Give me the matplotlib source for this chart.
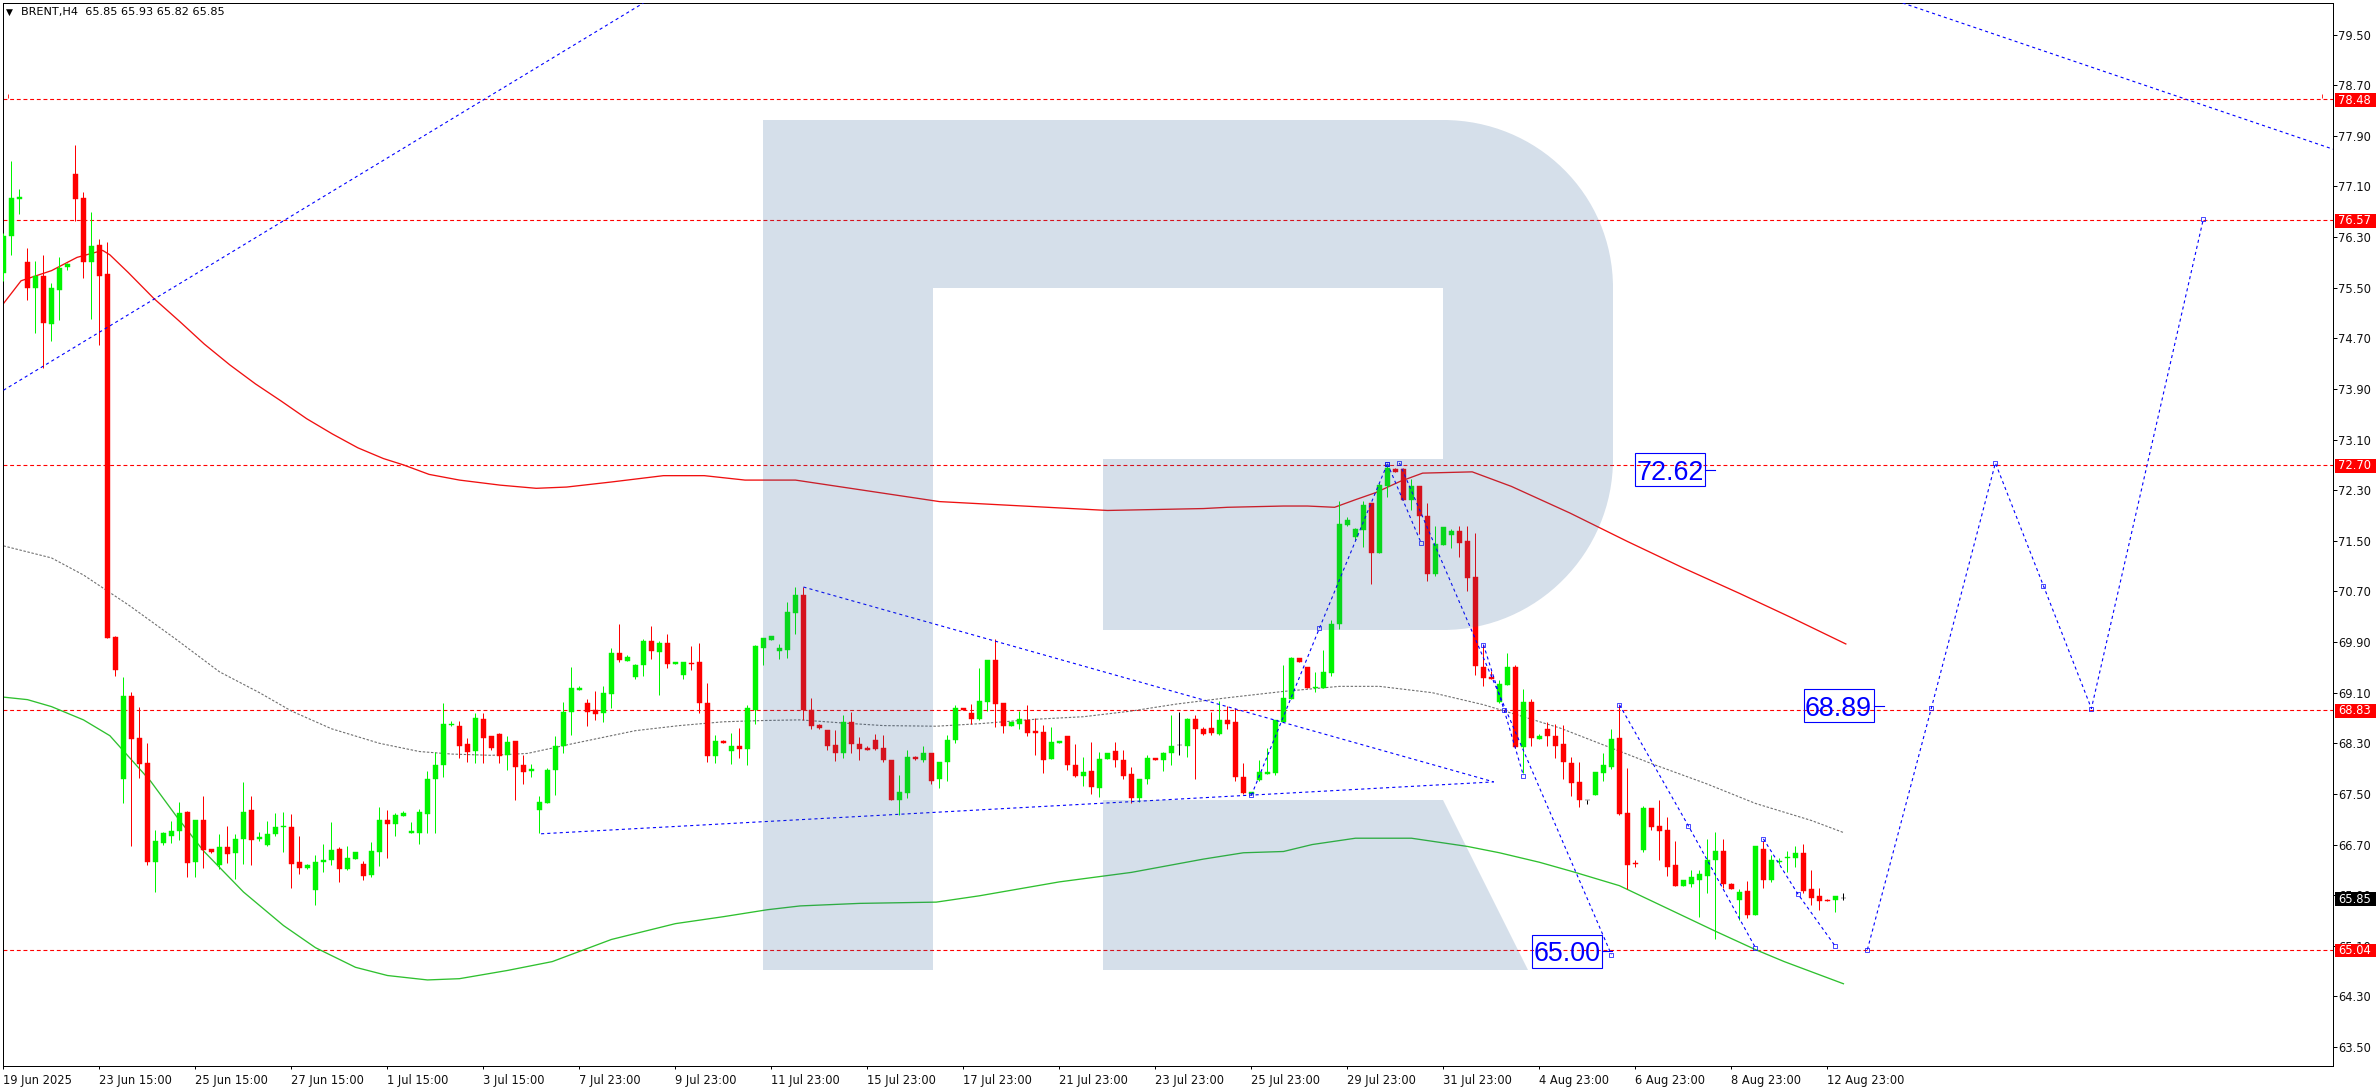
import matplotlib
matplotlib.use("Agg")
import matplotlib.pyplot as plt
import numpy as np
from matplotlib.path import Path
from matplotlib.patches import PathPatch, Rectangle
from matplotlib.transforms import IdentityTransform, blended_transform_factory

W, H = 2376, 1090

# H4 candles, one row per 10 bars
opens = [
    75.74, 76.32, 76.90, 75.91, 75.50, 75.69, 74.93, 75.47, 75.82, 77.30,
    76.92, 75.91, 76.18, 75.71, 69.98, 67.73, 69.04, 68.39, 67.99, 66.43,
    66.73, 66.84, 66.92, 67.22, 66.43, 67.08, 66.63, 66.38, 66.66, 66.57,
    66.79, 67.24, 66.79, 66.70, 66.86, 66.97, 66.98, 66.43, 66.33, 65.98,
    66.43, 66.46, 66.63, 66.32, 66.47, 66.40, 66.22, 66.59, 67.08, 67.03,
    67.15, 66.88, 66.88, 67.19, 67.73, 67.96, 68.59, 68.58, 68.29, 68.18,
    68.69, 68.41, 68.45, 68.12, 68.34, 67.95, 67.87, 67.25, 67.36, 67.88,
    68.25, 68.79, 69.15, 68.94, 68.83, 68.78, 69.08, 69.73, 69.60, 69.35,
    69.53, 69.92, 69.75, 69.89, 69.56, 69.38, 69.57, 69.58, 68.94, 68.10,
    68.34, 68.18, 68.26, 68.21, 68.82, 69.81, 69.94, 69.76, 69.78, 70.36,
    70.64, 68.82, 68.59, 68.51, 68.28, 68.15, 68.64, 68.29, 68.23, 68.36,
    68.23, 68.04, 67.41, 67.52, 68.09, 68.03, 68.14, 67.73, 68.01, 68.36,
    68.86, 68.78, 68.69, 68.95, 69.62, 68.93, 68.58, 68.61, 68.67, 68.50,
    68.48, 68.05, 68.31, 68.41, 67.95, 67.78, 67.87, 67.60, 68.05, 68.18,
    68.04, 67.82, 67.44, 67.73, 68.07, 68.03, 68.14, 68.27, 68.25, 68.69,
    68.53, 68.54, 68.45, 68.67, 68.64, 67.77, 67.50, 67.72, 67.82, 67.83,
    68.64, 69.00, 69.65, 69.51, 69.18, 69.18, 69.41, 70.19, 71.75, 71.56,
    71.67, 72.09, 71.30, 72.37, 72.63, 72.63, 72.14, 72.37, 71.90, 70.97,
    71.44, 71.60, 71.66, 71.50, 70.93, 69.50, 69.35, 68.96, 69.22, 69.51,
    68.24, 68.96, 68.37, 68.52, 68.42, 68.29, 67.99, 67.69, 67.41, 67.49,
    67.83, 67.93, 68.39, 67.20, 66.41, 66.62, 67.27, 67.00, 66.93, 66.37,
    66.05, 66.08, 66.14, 66.21, 66.45, 66.60, 66.08, 65.83, 65.97, 65.58,
    66.63, 66.14, 66.42, 66.48, 66.48, 66.56, 65.99, 65.88, 65.83, 65.83,
    65.85,
]
highs = [
    76.36, 77.50, 77.06, 76.13, 75.93, 76.01, 75.57, 75.98, 75.89, 77.75,
    77.02, 76.70, 76.27, 76.23, 70.00, 69.35, 69.11, 68.88, 68.31, 66.93,
    66.90, 67.07, 67.38, 67.23, 67.09, 67.46, 66.63, 66.86, 67.00, 66.87,
    67.69, 67.47, 66.90, 67.07, 67.20, 67.21, 67.19, 66.84, 66.40, 66.54,
    66.71, 67.06, 66.66, 66.68, 66.59, 66.44, 66.74, 67.30, 67.25, 67.20,
    67.23, 67.05, 67.26, 67.87, 68.16, 68.93, 68.66, 68.66, 68.39, 68.78,
    68.78, 68.42, 68.46, 68.42, 68.34, 68.12, 67.97, 67.47, 67.91, 68.41,
    68.96, 69.51, 69.21, 69.00, 69.13, 69.20, 69.80, 70.18, 69.70, 69.56,
    69.95, 70.16, 69.91, 70.03, 69.59, 69.59, 69.83, 69.89, 69.26, 68.43,
    68.35, 68.47, 68.54, 68.90, 69.85, 69.97, 70.00, 69.87, 70.53, 70.77,
    70.77, 69.02, 68.60, 68.51, 68.51, 68.75, 68.80, 68.40, 68.25, 68.45,
    68.43, 68.04, 67.80, 68.20, 68.10, 68.26, 68.14, 68.01, 68.43, 68.91,
    68.86, 68.92, 69.49, 69.62, 69.95, 68.93, 68.64, 68.81, 68.91, 68.70,
    68.59, 68.56, 68.34, 68.42, 68.29, 68.09, 68.32, 68.17, 68.15, 68.32,
    68.20, 67.92, 67.74, 68.12, 68.07, 68.17, 68.75, 68.80, 68.70, 68.75,
    68.55, 68.80, 68.97, 68.89, 68.86, 67.99, 67.53, 68.03, 68.22, 68.67,
    69.53, 69.66, 69.65, 69.51, 69.43, 69.77, 70.25, 72.13, 71.88, 71.70,
    72.13, 72.09, 72.41, 72.70, 72.65, 72.65, 72.47, 72.37, 72.09, 71.73,
    71.72, 71.68, 71.74, 71.74, 71.62, 69.86, 69.45, 69.30, 69.73, 69.54,
    69.16, 69.00, 68.45, 68.64, 68.61, 68.59, 68.09, 68.01, 67.41, 67.85,
    68.15, 68.53, 68.91, 67.91, 66.45, 67.31, 67.27, 67.41, 67.14, 66.76,
    66.14, 66.29, 66.30, 66.78, 66.90, 66.78, 66.10, 66.00, 66.13, 66.68,
    66.75, 66.54, 66.48, 66.60, 66.68, 66.71, 66.30, 66.02, 65.84, 65.88,
    65.93,
]
lows = [
    75.60, 76.02, 76.67, 75.31, 74.79, 74.23, 74.66, 74.99, 75.78, 76.56,
    75.66, 75.01, 74.59, 69.97, 69.37, 67.36, 66.67, 67.75, 66.37, 65.95,
    66.70, 66.73, 66.77, 66.19, 66.18, 66.33, 66.56, 66.31, 66.41, 66.16,
    66.40, 66.38, 66.76, 66.67, 66.84, 66.58, 66.02, 66.24, 66.32, 65.75,
    66.26, 66.38, 66.11, 66.30, 66.47, 66.14, 66.19, 66.36, 66.48, 66.84,
    67.15, 66.88, 66.71, 66.88, 66.88, 67.76, 68.57, 68.06, 68.01, 67.99,
    67.99, 68.20, 67.99, 67.88, 67.41, 67.65, 67.76, 66.88, 67.35, 67.48,
    68.14, 68.43, 69.14, 68.58, 68.67, 68.64, 68.86, 69.59, 69.60, 69.31,
    69.37, 69.64, 69.07, 69.49, 69.56, 69.31, 69.46, 68.78, 68.01, 67.99,
    68.31, 67.98, 68.06, 67.96, 68.61, 69.53, 69.94, 69.64, 69.65, 70.03,
    68.67, 68.53, 68.52, 68.20, 68.02, 68.06, 68.14, 68.03, 68.19, 68.19,
    68.01, 67.41, 67.16, 67.43, 68.03, 68.00, 67.65, 67.60, 67.70, 68.31,
    68.82, 68.61, 68.67, 68.81, 68.56, 68.46, 68.58, 68.53, 68.41, 68.12,
    67.83, 68.05, 68.31, 67.88, 67.77, 67.62, 67.50, 67.45, 68.05, 67.93,
    67.73, 67.35, 67.37, 67.65, 68.03, 67.87, 67.95, 68.12, 68.09, 67.74,
    68.43, 68.43, 68.43, 68.53, 67.71, 67.50, 67.48, 67.70, 67.82, 67.80,
    68.64, 69.00, 69.58, 69.18, 69.11, 69.18, 69.37, 70.11, 71.74, 71.52,
    71.41, 70.81, 71.30, 72.20, 72.58, 72.14, 71.99, 71.61, 70.86, 70.94,
    71.44, 71.38, 71.24, 70.71, 69.38, 69.20, 69.31, 68.94, 69.22, 68.23,
    67.83, 68.25, 68.37, 68.26, 68.06, 67.73, 67.47, 67.30, 67.34, 67.49,
    67.71, 67.90, 67.16, 65.99, 66.34, 66.58, 66.93, 66.46, 66.21, 66.04,
    66.05, 66.03, 65.56, 65.94, 65.21, 66.02, 65.99, 65.50, 65.54, 65.58,
    66.02, 66.11, 66.40, 66.26, 66.35, 65.94, 65.75, 65.67, 65.80, 65.64,
    65.82,
]
closes = [
    76.32, 76.92, 76.93, 75.50, 75.68, 74.95, 75.49, 75.81, 75.88, 76.90,
    75.91, 76.16, 75.69, 69.97, 69.46, 69.05, 68.37, 67.98, 66.43, 66.75,
    66.88, 66.91, 67.20, 66.41, 67.08, 66.61, 66.58, 66.66, 66.55, 66.79,
    67.22, 66.77, 66.82, 66.87, 66.97, 67.00, 66.40, 66.33, 66.38, 66.43,
    66.46, 66.61, 66.32, 66.49, 66.59, 66.21, 66.60, 67.08, 67.03, 67.17,
    67.20, 66.92, 67.22, 67.74, 67.96, 68.61, 68.61, 68.26, 68.17, 68.70,
    68.39, 68.23, 68.10, 68.32, 67.92, 67.85, 67.90, 67.38, 67.88, 68.26,
    68.80, 69.18, 69.18, 68.80, 68.77, 69.10, 69.73, 69.62, 69.67, 69.54,
    69.92, 69.76, 69.89, 69.56, 69.59, 69.58, 69.56, 68.94, 68.10, 68.34,
    68.31, 68.26, 68.21, 68.86, 69.83, 69.96, 70.00, 69.80, 70.38, 70.64,
    68.82, 68.58, 68.54, 68.25, 68.14, 68.64, 68.29, 68.21, 68.20, 68.21,
    68.03, 67.41, 67.53, 68.09, 68.05, 68.15, 67.71, 68.01, 68.36, 68.86,
    68.82, 68.69, 68.97, 69.62, 68.92, 68.58, 68.64, 68.69, 68.47, 68.47,
    68.04, 68.32, 68.34, 67.95, 67.78, 67.85, 67.61, 68.05, 68.15, 68.03,
    67.78, 67.44, 67.74, 68.07, 68.03, 68.14, 68.26, 68.27, 68.69, 68.53,
    68.45, 68.47, 68.67, 68.61, 67.76, 67.52, 67.53, 67.84, 67.85, 68.67,
    69.02, 69.65, 69.59, 69.18, 69.19, 69.43, 70.19, 71.77, 71.83, 71.68,
    72.07, 71.30, 72.39, 72.65, 72.59, 72.14, 72.37, 71.89, 70.97, 71.45,
    71.72, 71.66, 71.47, 70.92, 69.52, 69.33, 69.32, 69.24, 69.50, 68.24,
    68.95, 68.39, 68.42, 68.41, 68.26, 68.00, 67.68, 67.41, 67.41, 67.84,
    67.96, 68.37, 67.19, 66.38, 66.39, 67.28, 66.98, 66.92, 66.35, 66.05,
    66.14, 66.18, 66.24, 66.46, 66.60, 66.07, 66.00, 65.95, 65.58, 66.67,
    66.14, 66.45, 66.44, 66.51, 66.56, 65.97, 65.86, 65.80, 65.80, 65.88,
    65.85,
]

# moving averages, (bar, price)
ma_red_x = [0, 2.2, 6, 9.2, 12.4, 13.3, 15.6, 18.8, 22, 25.1, 28.3, 31.5, 34.7, 37.9, 41.1, 44.3, 47.5, 50, 53.2, 57, 62.1,
            66.6, 70.4, 76, 82.5, 87.6, 92.7, 99, 117, 138, 150, 153, 160, 163, 166.4, 169, 171.5, 174.6, 177.4, 183.6,
            188.5, 195.8, 203, 210, 217, 223.6, 230.3]
ma_red_y = [75.25, 75.61, 75.77, 75.98, 76.09, 76.02, 75.74, 75.33, 74.97, 74.61, 74.28, 73.98, 73.71, 73.43, 73.19, 72.97, 72.80, 72.70, 72.55, 72.46, 72.38,
            72.33, 72.35, 72.43, 72.53, 72.53, 72.46, 72.46, 72.12, 71.98, 72.01, 72.03, 72.05, 72.05, 72.03, 72.15, 72.26, 72.44, 72.57, 72.59,
            72.36, 71.94, 71.49, 71.07, 70.67, 70.28, 69.87]
ma_gray_x = [0, 6, 10, 15.7, 21.4, 27, 32, 36, 41, 47, 52, 56, 61, 65.5, 71, 79, 84.5, 90, 95, 99.6, 105, 110, 116.6, 122, 129, 135,
             141, 146.6, 153, 160, 167, 172, 178.6, 185, 190, 194.6, 200.9, 206.4, 212.9, 219, 226, 230]
ma_gray_y = [71.42, 71.23, 70.96, 70.48, 69.96, 69.43, 69.10, 68.81, 68.53, 68.30, 68.17, 68.13, 68.11, 68.14, 68.29, 68.50, 68.58, 68.64, 68.66, 68.67, 68.62, 68.58, 68.57, 68.61, 68.68, 68.72,
             68.81, 68.92, 69.02, 69.12, 69.20, 69.20, 69.10, 68.91, 68.72, 68.54, 68.23, 67.96, 67.66, 67.35, 67.08, 66.89]
ma_green_x = [0, 3, 6, 10, 13.3, 18.4, 21.6, 25, 30, 35, 39, 44, 48, 53, 57, 63, 68.6, 76, 84, 90, 95.5, 99.6, 107, 116.6, 122, 132, 141, 150,
              155, 160, 163.6, 169, 176, 183, 187, 192, 196.2, 202, 207, 214, 219, 222.6, 230]
ma_green_y = [69.03, 68.99, 68.88, 68.67, 68.42, 67.70, 67.15, 66.60, 65.95, 65.42, 65.07, 64.76, 64.63, 64.56, 64.58, 64.71, 64.85, 65.20, 65.45, 65.56, 65.67, 65.73, 65.77, 65.79, 65.89, 66.11, 66.26, 66.47,
              66.57, 66.59, 66.70, 66.80, 66.80, 66.67, 66.57, 66.42, 66.27, 66.05, 65.75, 65.33, 65.04, 64.85, 64.50]

# blue trend lines
trend_lines = [
    ([0, 80], [73.88, 80.0]),
    ([237.4, 291.2], [80.0, 77.69]),
    ([67.2, 186.3], [66.87, 67.69]),
    ([100, 186.3], [70.77, 67.69]),
]
# blue forecast path, marked at every point
forecast_lines = [
    ([156, 164.5, 173], [67.48, 70.12, 72.72]),
    ([174.5, 201], [72.73, 64.96]),
    ([173, 177.2], [72.72, 71.47]),
    ([185, 187.6, 190], [69.86, 68.82, 67.79]),
    ([202, 210.6, 219], [68.91, 67.00, 65.07]),
    ([220, 224.3, 229], [66.79, 65.92, 65.09]),
    ([233, 241, 249, 255, 261, 275], [65.04, 68.86, 72.73, 70.79, 68.85, 76.59]),
]

level_lines = [78.48, 76.57, 72.70, 68.83, 65.04]
target_labels = ["72.62", "68.89", "65.00"]
target_bars = [208.3, 229.4, 195.4]
target_prices = [72.62, 68.89, 65.01]

ytick_values = [79.5, 78.7, 77.9, 77.1, 76.3, 75.5, 74.7, 73.9, 73.1, 72.3, 71.5, 70.7,
                69.9, 69.1, 68.3, 67.5, 66.7, 65.9, 65.1, 64.3, 63.5]
xtick_labels = ["19 Jun 2025", "23 Jun 15:00", "25 Jun 15:00", "27 Jun 15:00", "1 Jul 15:00",
                "3 Jul 15:00", "7 Jul 23:00", "9 Jul 23:00", "11 Jul 23:00", "15 Jul 23:00",
                "17 Jul 23:00", "21 Jul 23:00", "23 Jul 23:00", "25 Jul 23:00", "29 Jul 23:00",
                "31 Jul 23:00", "4 Aug 23:00", "6 Aug 23:00", "8 Aug 23:00", "12 Aug 23:00"]

GREEN = "#00f400"
RED = "#ff0000"
BLUE = "#0000ff"
TXT = 8.3


def candles(ax):
    bars = np.arange(len(opens))
    o, h, l, c = map(np.array, (opens, highs, lows, closes))
    cols = [GREEN if b > a else (RED if b < a else "black") for a, b in zip(o, c)]
    ax.vlines(bars, l, h, colors=cols, linewidth=0.72, zorder=3)
    ax.bar(bars, np.abs(c - o), bottom=np.minimum(o, c), width=0.62, color=cols,
           edgecolor=cols, linewidth=0.3, zorder=4)


def r_logo(ax):
    # watermark, in pixels from the top left of the picture
    def pt(x, y):
        return (x, H - y)

    k = 0.5523 * 170
    verts = [pt(763, 120), pt(1443, 120),
             pt(1443 + k, 120), pt(1613, 288 - k), pt(1613, 288),
             pt(1613, 459),
             pt(1613, 459 + k), pt(1443 + k, 630), pt(1443, 630),
             pt(1103, 630), pt(1103, 459), pt(1443, 459), pt(1443, 288), pt(933, 288),
             pt(933, 970), pt(763, 970), pt(763, 120)]
    codes = [Path.MOVETO, Path.LINETO,
             Path.CURVE4, Path.CURVE4, Path.CURVE4,
             Path.LINETO,
             Path.CURVE4, Path.CURVE4, Path.CURVE4,
             Path.LINETO, Path.LINETO, Path.LINETO, Path.LINETO, Path.LINETO,
             Path.LINETO, Path.LINETO, Path.CLOSEPOLY]
    ax.add_patch(PathPatch(Path(verts, codes), transform=IdentityTransform(),
                           facecolor="#2d5f96", edgecolor="none", alpha=0.2, zorder=6))
    leg = [pt(1103, 800), pt(1443, 800), pt(1528, 970), pt(1103, 970), pt(1103, 800)]
    ax.add_patch(PathPatch(Path(leg, closed=True), transform=IdentityTransform(),
                           facecolor="#2d5f96", edgecolor="none", alpha=0.2, zorder=6))


def price_tag(ax, price, face):
    trans = blended_transform_factory(IdentityTransform(), ax.transData)
    ax.add_patch(Rectangle((2334.5, price - 0.125), 42, 0.22, transform=trans, facecolor=face,
                           edgecolor="none", clip_on=False, zorder=8))
    ax.text(2338, price - 0.015, f"{price:.2f}", transform=trans, color="white", fontsize=TXT,
            va="center", ha="left", clip_on=False, zorder=9)


fig = plt.figure(figsize=(W / 100, H / 100), dpi=100, facecolor="white")
ax = fig.add_axes([3 / W, (H - 1066) / H, 2330 / W, 1063 / H])
ax.set_xlim(-0.06, 291.2)
ax.set_ylim(63.2, 80.0)

for lv in level_lines:
    ax.axhline(lv, color=RED, linewidth=0.8, linestyle=(0, (3.5, 2.5)), zorder=2)
ax.plot([0.6, 289.8], [78.53, 78.53], linestyle="none", marker="|", markersize=2.5,
        markeredgewidth=0.6, color=RED, zorder=2)

ax.plot(ma_red_x, ma_red_y, color="#f01010", linewidth=0.95, zorder=2)
ax.plot(ma_gray_x, ma_gray_y, color="#707070", linewidth=0.8, linestyle=(0, (2.2, 1.5)), zorder=2)
ax.plot(ma_green_x, ma_green_y, color="#2fc02f", linewidth=0.95, zorder=2)

candles(ax)

for xs, ys in trend_lines:
    ax.plot(xs, ys, color=BLUE, linewidth=0.8, linestyle=(0, (2.8, 2.8)), zorder=5)
for xs, ys in forecast_lines:
    ax.plot(xs, ys, color=BLUE, linewidth=0.8, linestyle=(0, (2.8, 2.8)), zorder=5)
    ax.plot(xs, ys, linestyle="none", marker="s", markersize=2.6, markerfacecolor="none",
            markeredgecolor=BLUE, markeredgewidth=0.5, zorder=5)

r_logo(ax)

# target boxes 70x33 px with a short stem on the right
box_w = 70 / 8
box_h = 33 / 63.27
for txt, bar, price in zip(target_labels, target_bars, target_prices):
    ax.text(bar, price, txt, color=BLUE, fontsize=19.4, family="Liberation Sans", ha="center",
            va="center_baseline", zorder=7)
    ax.add_patch(Rectangle((bar - box_w / 2, price - box_h / 2), box_w, box_h, facecolor="none",
                           edgecolor=BLUE, linewidth=0.8, zorder=7))
    ax.plot([bar + box_w / 2, bar + box_w / 2 + 1.3], [price, price], color=BLUE, linewidth=0.8, zorder=7)

ax.set_yticks(ytick_values)
ax.set_yticklabels([f"{v:.2f}" for v in ytick_values], fontsize=TXT)
ax.yaxis.tick_right()
ax.tick_params(axis="y", length=3, width=0.72, pad=0.6, labelcolor="#101010")

ax.set_xticks(np.arange(len(xtick_labels)) * 12)
ax.set_xticklabels(xtick_labels, fontsize=TXT, ha="left")
ax.tick_params(axis="x", length=2, width=0.72, pad=3.5, labelcolor="#101010")

for side in ax.spines.values():
    side.set_linewidth(0.72)
    side.set_color("black")

for lv in level_lines:
    price_tag(ax, lv, RED)
price_tag(ax, closes[-1], "black")

fig.text(6 / W, 1 - 12.5 / H, "\u25bc", fontsize=6.5, va="center", ha="left", color="black")
fig.text(21 / W, 1 - 12.5 / H, "BRENT,H4  65.85 65.93 65.82 65.85", fontsize=8.1, va="center",
         ha="left", color="black")

fig.savefig("out.png", dpi=100)
